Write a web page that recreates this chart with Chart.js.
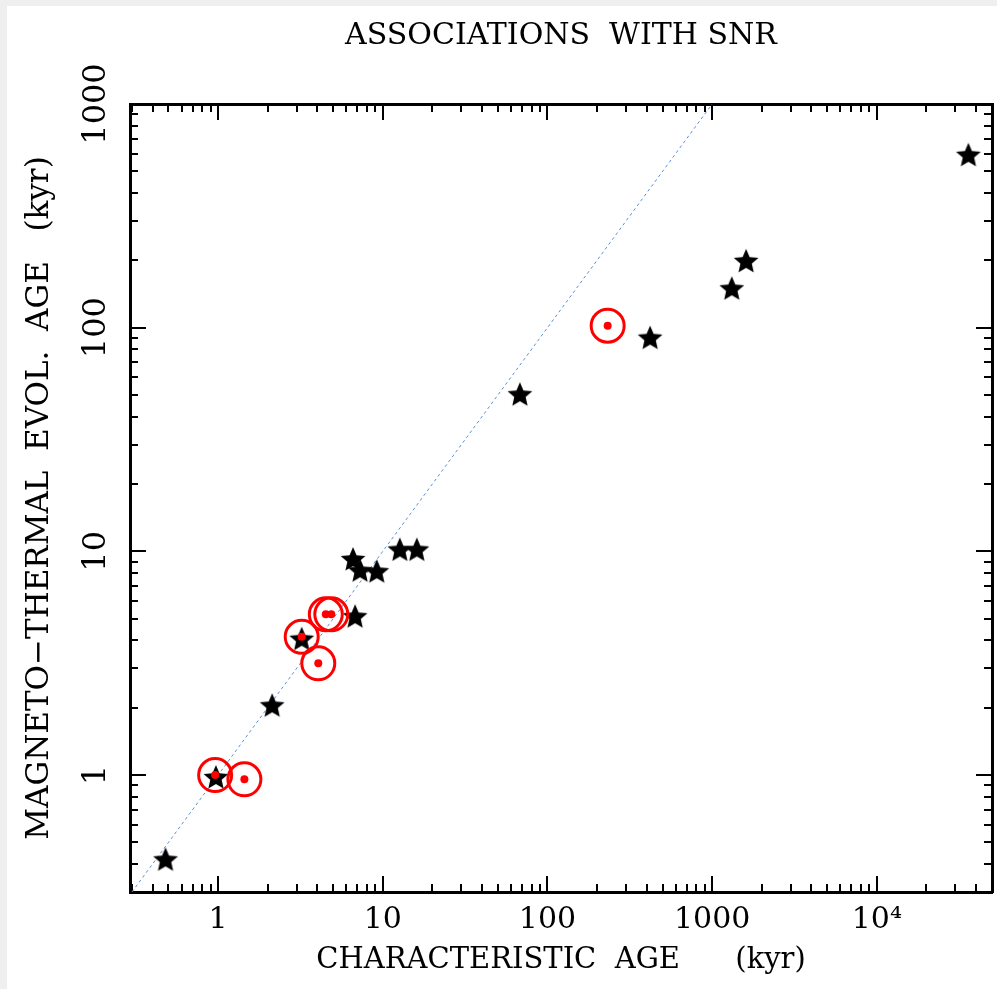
<!DOCTYPE html>
<html><head><meta charset="utf-8">
<script src="https://cdn.jsdelivr.net/npm/chart.js@4"></script>
<style>
html,body{margin:0;padding:0;background:#efefef;width:997px;height:989px;overflow:hidden}
#wrap{position:absolute;left:7px;top:6px;width:990px;height:983px;background:#fff}
canvas{display:block}
</style></head><body><div id="wrap"><canvas id="c" width="990" height="983"></canvas></div>
<script>
// ---- text ----
const titleText = 'ASSOCIATIONS  WITH SNR';
const xTitle = 'CHARACTERISTIC  AGE      (kyr)';
const yTitle = 'MAGNETO\u2212THERMAL  EVOL.  AGE   (kyr)';

// ---- tick labels ----
const xMajorTicks = [1, 10, 100, 1000, 10000];
const xTickLabels = ['1', '10', '100', '1000', '10\u2074'];
const yMajorTicks = [1, 10, 100, 1000];
const yTickLabels = ['1', '10', '100', '1000'];

// ---- axis ranges ----
const xRange = [0.292, 50000];
const yRange = [0.316, 1000];

// ---- data: pulsars (stars) ----
const starX = [0.48, 0.97, 2.13, 3.22, 6.6, 7.28, 9.2, 12.7, 16.1, 6.79, 68, 420, 1315, 1607, 35960];
const starY = [0.42, 0.98, 2.05, 4.07, 9.24, 8.23, 8.15, 10.2, 10.2, 5.13, 50.4, 90.3, 150, 199, 593];

// ---- data: SNR associations (red circled dots) ----
const snrX = [0.96, 1.445, 3.22, 4.06, 4.51, 4.87, 232];
const snrY = [1.0, 0.957, 4.15, 3.16, 5.23, 5.23, 102];

// ---- 1:1 line ----
const lineX = [0.3, 1000];
const lineY = [0.3, 1000];

function minorTicks(lo, hi) {
  const out = [];
  for (let e = -1; e <= 5; e++) {
    for (let m = 2; m <= 9; m++) {
      const v = +(m * Math.pow(10, e)).toPrecision(6);
      if (v >= lo && v <= hi) out.push(v);
    }
  }
  return out;
}
const xMinor = minorTicks(xRange[0], xRange[1]);
const yMinor = minorTicks(yRange[0], yRange[1]);

function makeStar(R, r, color) {
  const size = Math.ceil(2 * R + 2);
  const c = document.createElement('canvas');
  c.width = c.height = size;
  const g = c.getContext('2d');
  g.beginPath();
  for (let k = 0; k < 10; k++) {
    const rad = k % 2 ? r : R;
    const a = -Math.PI / 2 + k * Math.PI / 5;
    const px = size / 2 + rad * Math.cos(a), py = size / 2 + 1 + rad * Math.sin(a);
    if (k) g.lineTo(px, py); else g.moveTo(px, py);
  }
  g.closePath();
  g.fillStyle = color;
  g.fill();
  return c;
}
const starImg = makeStar(13, 6, '#000');

const pts = (xs, ys) => xs.map((x, i) => ({x, y: ys[i]}));

Chart.defaults.font.family = "'DejaVu Serif', serif";
Chart.defaults.color = '#000';

const BLACK = '#000';
function sized(w, h) {
  return s => {
    if (w !== null) s.width = w;
    if (h !== null) s.height = h;
    s.paddingLeft = s.paddingRight = s.paddingTop = s.paddingBottom = 0;
  };
}
function axis(pos, range, ticksArr, major, extra) {
  const base = {
    type: 'logarithmic', position: pos, min: range[0], max: range[1],
    weight: major ? 0 : -1,
    afterBuildTicks: s => { s.ticks = ticksArr.map(v => ({value: v})); },
    grid: {drawOnChartArea: false, drawTicks: true, tickLength: major ? -16 : -8,
           tickWidth: 2, tickColor: BLACK, color: BLACK, lineWidth: 2},
    border: major ? {display: true, color: BLACK, width: 3} : {display: false},
    ticks: {display: false, autoSkip: false},
    title: {display: false}
  };
  return Object.assign(base, extra || {});
}

new Chart(document.getElementById('c'), {
  type: 'scatter',
  data: {
    datasets: [
      { label: 'SNR dot', data: pts(snrX, snrY), order: 0,
        pointStyle: 'circle', pointRadius: 4, pointBackgroundColor: '#ff0000',
        pointBorderWidth: 0, pointBorderColor: '#ff0000' },
      { label: 'SNR ring', data: pts(snrX, snrY), order: 1,
        pointStyle: 'circle', pointRadius: 16.5, pointBackgroundColor: 'rgba(0,0,0,0)',
        pointBorderWidth: 3, pointBorderColor: '#ff0000' },
      { label: 'pulsars', data: pts(starX, starY), order: 2,
        pointStyle: starImg, pointRadius: 12 },
      { label: '1:1', data: pts(lineX, lineY), order: 3, showLine: true,
        pointRadius: 0, borderColor: '#5b8fd8', borderWidth: 1, borderDash: [3, 3] }
    ]
  },
  options: {
    responsive: false,
    animation: false,
    layout: {padding: 0, autoPadding: false},
    plugins: {legend: {display: false}, tooltip: {enabled: false}, title: {display: false}},
    scales: {
      x: axis('bottom', xRange, xMajorTicks, true, {
        afterFit: sized(null, 97),
        ticks: {display: true, autoSkip: false, minRotation: 0, maxRotation: 0, padding: 26,
                color: BLACK, font: {size: 30}, callback: (v, i) => xTickLabels[i]},
        title: {display: true, text: xTitle, color: BLACK, font: {size: 29},
                padding: {top: 0, bottom: 11.5}}
      }),
      xMin: axis('bottom', xRange, xMinor, false, {axis: 'x', afterFit: sized(null, 0)}),
      xTop: axis('top', xRange, xMajorTicks, true, {axis: 'x',
        afterFit: sized(null, 98),
        title: {display: true, text: titleText, color: BLACK, font: {size: 30},
                padding: {top: 12, bottom: 0}}
      }),
      xTopMin: axis('top', xRange, xMinor, false, {axis: 'x', afterFit: sized(null, 0)}),
      y: axis('left', yRange, yMajorTicks, true, {
        afterFit: sized(123, null),
        ticks: {display: true, autoSkip: false, minRotation: 90, maxRotation: 90, crossAlign: 'center',
                padding: 8.8, color: BLACK, font: {size: 32}, callback: (v, i) => yTickLabels[i]},
        title: {display: true, text: yTitle, color: BLACK, font: {size: 31},
                padding: {top: 14, bottom: 0}}
      }),
      yMin: axis('left', yRange, yMinor, false, {axis: 'y', afterFit: sized(0, null)}),
      yRight: axis('right', yRange, yMajorTicks, true, {axis: 'y', afterFit: sized(5, null)}),
      yRightMin: axis('right', yRange, yMinor, false, {axis: 'y', afterFit: sized(0, null)})
    }
  }
});
</script>
</body></html>
